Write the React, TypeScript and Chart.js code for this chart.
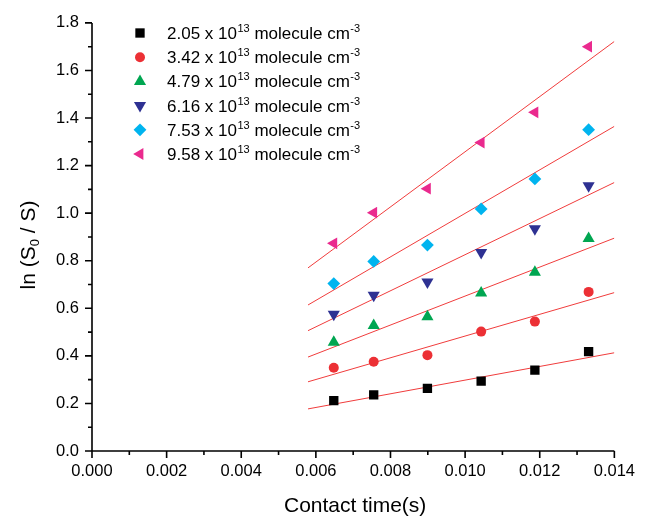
import React, { useEffect, useRef } from 'react';
import { Chart, registerables, PointElement } from 'chart.js';

Chart.register(...registerables);

// Contact time (s) for each measurement
const contactTime = [0.00648, 0.00755, 0.00899, 0.01043, 0.01187, 0.01331];

// ln(S0/S) for each concentration
const s205 = [0.212, 0.236, 0.263, 0.294, 0.340, 0.418];
const s342 = [0.350, 0.375, 0.403, 0.502, 0.544, 0.669];
const s479 = [0.457, 0.528, 0.564, 0.664, 0.752, 0.894];
const s616 = [0.575, 0.655, 0.711, 0.835, 0.935, 1.115];
const s753 = [0.704, 0.797, 0.866, 1.018, 1.144, 1.351];
const s958 = [0.873, 1.002, 1.103, 1.297, 1.424, 1.700];

// Linear fit lines: x range and y at start/end, one per series
const fitX = [0.00579, 0.014];
const fitStart = [0.177, 0.291, 0.395, 0.506, 0.614, 0.770];
const fitEnd = [0.413, 0.666, 0.895, 1.129, 1.365, 1.722];

const concentrations = ['2.05', '3.42', '4.79', '6.16', '7.53', '9.58'];
const seriesValues = [s205, s342, s479, s616, s753, s958];

const colors = ['#000000', '#ec3035', '#00a651', '#2e3192', '#00b4ef', '#ea2a8e'];
const pointStyles = ['rect', 'circle', 'triangle', 'triangle', 'rectRot', 'triangle'];
const rotations = [0, 0, 0, 180, 0, 270];
const radii = [6.6, 5.0, 7.0, 7.0, 6.4, 6.8];

const xMajorTicks = [0, 0.002, 0.004, 0.006, 0.008, 0.01, 0.012, 0.014];
const yMajorTicks = [0, 0.2, 0.4, 0.6, 0.8, 1.0, 1.2, 1.4, 1.6, 1.8];

const FONT = '"Liberation Sans", Arial, Helvetica, sans-serif';

export default function App() {
  const ref = useRef<HTMLCanvasElement>(null);

  useEffect(() => {
    const canvas = ref.current;
    if (!canvas) return;

    const originPlugin = {
      id: 'originAxes',
      beforeDatasetsDraw(chart: any) {
        const ctx = chart.ctx;
        const xs = chart.scales.x;
        const ys = chart.scales.y;
        const { left, right, top, bottom } = chart.chartArea;
        ctx.save();
        ctx.strokeStyle = '#000';
        ctx.lineWidth = 1.6;
        ctx.lineCap = 'butt';
        ctx.beginPath();
        ctx.moveTo(left, top);
        ctx.lineTo(left, bottom + 0.8);
        ctx.moveTo(left - 0.8, bottom);
        ctx.lineTo(right, bottom);
        // y ticks
        for (let i = 0; i < yMajorTicks.length; i++) {
          const py = ys.getPixelForValue(yMajorTicks[i]);
          ctx.moveTo(left, py);
          ctx.lineTo(left - 7, py);
          if (i < yMajorTicks.length - 1) {
            const pm = ys.getPixelForValue((yMajorTicks[i] + yMajorTicks[i + 1]) / 2);
            ctx.moveTo(left, pm);
            ctx.lineTo(left - 4, pm);
          }
        }
        // x ticks
        for (let i = 0; i < xMajorTicks.length; i++) {
          const px = xs.getPixelForValue(xMajorTicks[i]);
          ctx.moveTo(px, bottom);
          ctx.lineTo(px, bottom + 7);
          if (i < xMajorTicks.length - 1) {
            const pm = xs.getPixelForValue((xMajorTicks[i] + xMajorTicks[i + 1]) / 2);
            ctx.moveTo(pm, bottom);
            ctx.lineTo(pm, bottom + 4);
          }
        }
        ctx.stroke();
        ctx.restore();
      },
      afterDraw(chart: any) {
        const ctx = chart.ctx;
        const { left, right, top, bottom } = chart.chartArea;
        ctx.save();
        ctx.fillStyle = '#000';
        // X title
        ctx.font = `21px ${FONT}`;
        ctx.textAlign = 'center';
        ctx.textBaseline = 'middle';
        ctx.fillText('Contact time(s)', (left + right) / 2 + 2, 506);

        // Y title with subscript
        ctx.save();
        ctx.translate(27, (top + bottom) / 2 + 8);
        ctx.rotate(-Math.PI / 2);
        ctx.textAlign = 'left';
        ctx.textBaseline = 'alphabetic';
        const big = `21px ${FONT}`;
        const small = `13px ${FONT}`;
        ctx.font = big;
        const p1 = 'ln (S';
        const p3 = ' / S)';
        const w1 = ctx.measureText(p1).width;
        const w3 = ctx.measureText(p3).width;
        ctx.font = small;
        const w2 = ctx.measureText('0').width;
        const total = w1 + w2 + w3;
        let cx = -total / 2;
        const base = 7.5;
        ctx.font = big;
        ctx.fillText(p1, cx, base);
        cx += w1;
        ctx.font = small;
        ctx.fillText('0', cx, base + 4);
        cx += w2;
        ctx.font = big;
        ctx.fillText(p3, cx, base);
        ctx.restore();

        // Legend
        for (let i = 0; i < concentrations.length; i++) {
          const y = 33 + 24.2 * i;
          const meta = chart.getDatasetMeta(i + concentrations.length);
          const opts = meta.data[0] ? meta.data[0].options : null;
          if (opts) {
            ctx.save();
            const el: any = new (PointElement as any)({ x: 140, y, options: opts });
            el.draw(ctx);
            ctx.restore();
          }
          ctx.fillStyle = '#000';
          const tx = 167;
          const tb = y + 6;
          ctx.textAlign = 'left';
          ctx.textBaseline = 'alphabetic';
          const main = `17px ${FONT}`;
          const sup = `11px ${FONT}`;
          let x = tx;
          ctx.font = main;
          const a = `${concentrations[i]} x 10`;
          ctx.fillText(a, x, tb);
          x += ctx.measureText(a).width;
          ctx.font = sup;
          ctx.fillText('13', x + 0.5, tb - 7);
          x += ctx.measureText('13').width + 0.5;
          ctx.font = main;
          const b = ' molecule cm';
          ctx.fillText(b, x, tb);
          x += ctx.measureText(b).width;
          ctx.font = sup;
          ctx.fillText('-3', x + 0.5, tb - 7);
        }
        ctx.restore();
      },
    };

    const fitDatasets = fitStart.map((s, i) => ({
      type: 'line' as const,
      label: `fit ${concentrations[i]}`,
      data: [
        { x: fitX[0], y: s },
        { x: fitX[1], y: fitEnd[i] },
      ],
      borderColor: '#f03c3c',
      borderWidth: 1,
      pointRadius: 0,
      fill: false,
      tension: 0,
      order: 2,
    }));

    const pointDatasets = seriesValues.map((vals, i) => ({
      type: 'scatter' as const,
      label: `${concentrations[i]} x 10^13 molecule cm^-3`,
      data: vals.map((v, j) => ({ x: contactTime[j], y: v })),
      showLine: false,
      pointStyle: pointStyles[i],
      rotation: rotations[i],
      pointRadius: radii[i],
      pointBackgroundColor: colors[i],
      pointBorderColor: colors[i],
      pointBorderWidth: 0,
      backgroundColor: colors[i],
      borderColor: colors[i],
      order: 1,
    }));

    const chart = new Chart(canvas, {
      type: 'scatter',
      data: { datasets: [...fitDatasets, ...pointDatasets] as any },
      plugins: [originPlugin],
      options: {
        responsive: false,
        animation: false,
        devicePixelRatio: 1,
        layout: { padding: { top: 18, right: 29, left: 0, bottom: 0 } },
        plugins: {
          legend: { display: false },
          tooltip: { enabled: false },
          title: { display: false },
        },
        scales: {
          x: {
            type: 'linear',
            min: 0,
            max: 0.014,
            grid: { display: false, drawTicks: false },
            border: { display: false },
            ticks: {
              stepSize: 0.002,
              autoSkip: false,
              maxRotation: 0,
              padding: 11,
              color: '#000',
              font: { family: FONT, size: 16.5 },
              callback: (v: any) => Number(v).toFixed(3),
            },
            afterFit: (s: any) => {
              s.height = 66;
            },
          },
          y: {
            type: 'linear',
            min: 0,
            max: 1.8,
            grid: { display: false, drawTicks: false },
            border: { display: false },
            ticks: {
              stepSize: 0.2,
              autoSkip: false,
              padding: 13,
              color: '#000',
              font: { family: FONT, size: 16.5 },
              callback: (v: any) => Number(v).toFixed(1),
            },
            afterFit: (s: any) => {
              s.width = 92;
            },
          },
        },
      } as any,
    });

    return () => chart.destroy();
  }, []);

  return (
    <div style={{ position: 'absolute', left: 0, top: 0, width: 646, height: 517, background: '#fff' }}>
      <canvas ref={ref} width={646} height={517} style={{ display: 'block' }} />
    </div>
  );
}
